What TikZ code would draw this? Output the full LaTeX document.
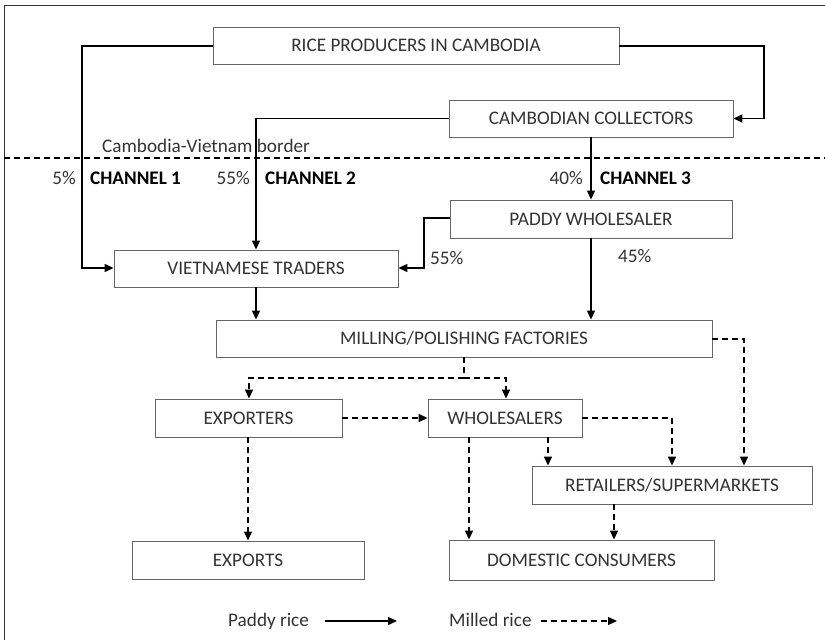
\documentclass[tikz,border=0pt]{standalone}
\usepackage{fontspec}
\setmainfont{Carlito}
\usetikzlibrary{arrows.meta}
\begin{document}
\begin{tikzpicture}[x=1pt,y=-1pt,
  box/.style={draw=black!60,line width=0.9pt,fill=white,inner sep=0pt,text=black!80,font=\fontsize{19.2}{22}\selectfont},
  paddy/.style={line width=1.3pt,-{Triangle[length=9pt,width=8pt]}},
  milled/.style={line width=1.3pt,dash pattern=on 6pt off 4pt,-{Triangle[length=9pt,width=8pt]}},
  lbl/.style={text=black!80,font=\fontsize{19.2}{22}\selectfont,inner sep=0pt},
  blbl/.style={text=black,font=\fontsize{19.2}{22}\selectfont\bfseries,inner sep=0pt}]
\useasboundingbox (0,0) rectangle (825,640);
\draw[line width=1pt,black!80] (4,640) -- (4,5) -- (825,5);
% boxes
\node[box,minimum width=406pt,minimum height=37pt] (rp) at (416,45.5) {RICE PRODUCERS IN CAMBODIA};
\node[box,minimum width=284pt,minimum height=37pt] (cc) at (591,118.5) {CAMBODIAN COLLECTORS};
\node[box,minimum width=282pt,minimum height=38pt] (pw) at (591,219) {PADDY WHOLESALER};
\node[box,minimum width=284pt,minimum height=37pt] (vt) at (256,268.5) {VIETNAMESE TRADERS};
\node[box,minimum width=496pt,minimum height=37pt] (mf) at (464,338.5) {MILLING/POLISHING FACTORIES};
\node[box,minimum width=187pt,minimum height=38pt] (ex) at (248.5,418) {EXPORTERS};
\node[box,minimum width=154pt,minimum height=38pt] (wh) at (505,418) {WHOLESALERS};
\node[box,minimum width=280pt,minimum height=38pt] (rs) at (672,485) {RETAILERS/SUPERMARKETS};
\node[box,minimum width=232pt,minimum height=38pt] (eo) at (248,560) {EXPORTS};
\node[box,minimum width=265pt,minimum height=40pt] (dc) at (581.5,560) {DOMESTIC CONSUMERS};
% border
\draw[line width=1.2pt,dash pattern=on 6pt off 4pt] (4,158) -- (825,158);
\node[lbl,anchor=base west] (bd) at (102,152) {Cambodia-Vietnam border};
% channel labels
\node[lbl,anchor=base east] (p5) at (76,184) {5\%};
\node[blbl,anchor=base west] (c1) at (90,184) {CHANNEL 1};
\node[lbl,anchor=base east] (p55) at (250,184) {55\%};
\node[blbl,anchor=base west] (c2) at (265,184) {CHANNEL 2};
\node[lbl,anchor=base east] (p40) at (583,184) {40\%};
\node[blbl,anchor=base west] (c3) at (600,184) {CHANNEL 3};
\node[lbl,anchor=base west] (p55b) at (430,264) {55\%};
\node[lbl,anchor=base west] (p45) at (618,262) {45\%};
% paddy flows
\coordinate (a1) at (82,46);
\coordinate (a2) at (82,268);
\draw[paddy] (rp.west |- a1) -- (a1) -- (a2) -- (vt.west |- a2);
\coordinate (b1) at (764,46);
\coordinate (b2) at (764,118.5);
\draw[paddy] (rp.east |- b1) -- (b1) -- (b2) -- (cc.east |- b2);
\coordinate (c1p) at (256,118.5);
\draw[paddy] (cc.west |- c1p) -- (c1p) -- (vt.north);
\draw[paddy] (cc.south) -- (pw.north);
\coordinate (d1) at (424,218);
\coordinate (d2) at (424,268);
\draw[paddy] (pw.west |- d1) -- (d1) -- (d2) -- (vt.east |- d2);
\draw[paddy] (pw.south) -- (mf.north -| pw.south);
\draw[paddy] (vt.south) -- (mf.north -| vt.south);
% milled flows
\coordinate (e1) at (744,339);
\coordinate (e2) at (744,466);
\draw[milled] (mf.east |- e1) -- (e1) -- (rs.north -| e2);
\coordinate (f0) at (464,378);
\coordinate (f1) at (249,378);
\coordinate (f2) at (506,378);
\draw[line width=1.3pt,dash pattern=on 6pt off 4pt] (mf.south) -- (f0);
\draw[milled] (f0) -- (f1) -- (ex.north -| f1);
\draw[milled] (f0) -- (f2) -- (wh.north -| f2);
\draw[milled] (ex.east) -- (wh.west);
\coordinate (g1) at (672,418);
\draw[milled] (wh.east) -- (g1) -- (rs.north -| g1);
\coordinate (h1) at (548,437);
\draw[milled] (h1) -- (rs.north -| h1);
\coordinate (i1) at (469,437);
\draw[milled] (i1) -- (dc.north -| i1);
\coordinate (j1) at (614,504);
\draw[milled] (j1) -- (dc.north -| j1);
\draw[milled] (ex.south -| eo.north) -- (eo.north);
% legend
\node[lbl,anchor=base west] (lp) at (228,626) {Paddy rice};
\coordinate (lpa) at (325,621);
\coordinate (lpb) at (397,621);
\draw[paddy] (lpa) -- (lpb);
\node[lbl,anchor=base west] (lm) at (449,626) {Milled rice};
\coordinate (lma) at (541,621);
\coordinate (lmb) at (617,621);
\draw[milled] (lma) -- (lmb);
\end{tikzpicture}
\end{document}
